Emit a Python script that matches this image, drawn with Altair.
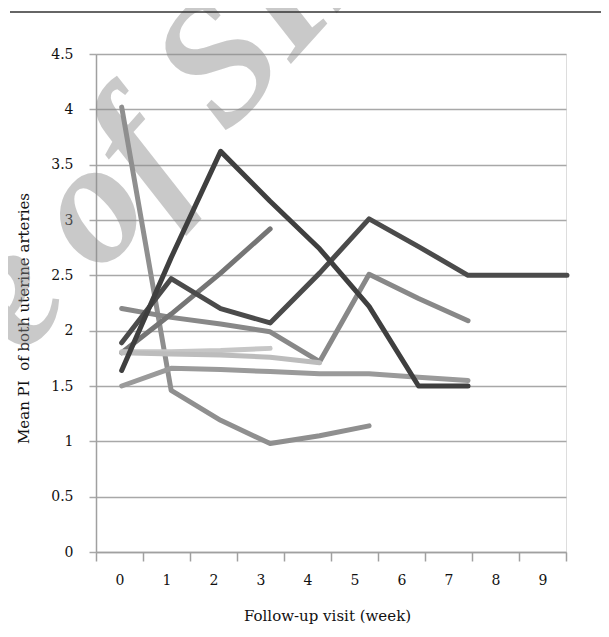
import altair as alt
import pandas as pd

# ---- data ----
week_labels = [str(i) for i in range(10)]

s_peak36 = [1.64, 2.66, 3.62, 3.17, 2.74, 2.22, 1.50, 1.50]
s_peak30 = [1.89, 2.47, 2.20, 2.07, 2.52, 3.01, 2.76, 2.50, 2.50, 2.50]
s_start40 = [4.02, 1.46, 1.19, 0.98, 1.05, 1.14]
s_peak29 = [1.80, 2.15, 2.52, 2.92]
s_start22 = [2.20, 2.12, 2.06, 1.99, 1.72, 2.51, 2.29, 2.09]
s_start15 = [1.50, 1.66, 1.65, 1.63, 1.61, 1.61, 1.58, 1.55]
s_light_a = [1.81, 1.81, 1.82, 1.84]
s_light_b = [1.80, 1.79, 1.78, 1.76, 1.71]

series_names = ["s40", "s22", "s29", "s15", "la", "lb", "s30", "s36"]
series_values = [s_start40, s_start22, s_peak29, s_start15, s_light_a, s_light_b, s_peak30, s_peak36]
series_colors = ["#8f8f8f", "#888888", "#757575", "#9a9a9a", "#c6c6c6", "#bcbcbc", "#4b4b4b", "#3f3f3f"]

y_ticks = [0, 0.5, 1, 1.5, 2, 2.5, 3, 3.5, 4, 4.5]

rows = []
for name, vals in zip(series_names, series_values):
    for w, v in enumerate(vals):
        rows.append({"series": name, "week": w, "value": v})
df = pd.DataFrame(rows)

FONT = "DejaVu Serif"

# watermark (two pieces so that "of" can be anchored)
wm_style = dict(font="Liberation Serif", fontStyle="italic", fontWeight="bold", fontSize=175,
                angle=312, baseline="alphabetic", color="#8a8a8a", opacity=0.45)
wm1 = alt.Chart(pd.DataFrame({"t": ["of SID"]})).mark_text(align="left", **wm_style).encode(
    x=alt.value(4), y=alt.value(222), text="t:N")
wm2 = alt.Chart(pd.DataFrame({"t": ["Archive"]})).mark_text(align="right", **wm_style).encode(
    x=alt.value(-22), y=alt.value(246), text="t:N")

# category axis (labels centred in bands, ticks at band edges)
band = alt.Chart(pd.DataFrame({"week": week_labels})).mark_point(opacity=0).encode(
    x=alt.X("week:O", sort=week_labels,
            scale=alt.Scale(type="band", paddingInner=0, paddingOuter=0),
            axis=alt.Axis(title="Follow-up visit (week)", labelAngle=0, tickBand="extent",
                          domainColor="#a0a0a0", domainWidth=1.5, tickColor="#a0a0a0",
                          tickWidth=1.5, tickSize=9, labelFont=FONT, labelFontSize=14,
                          labelColor="#111", labelPadding=12, titleFont=FONT,
                          titleFontSize=15, titleFontWeight="normal", titleColor="#111",
                          titleY=63, titleX=231, titleBaseline="middle", grid=False)),
    y=alt.value(0),
)

lines = alt.Chart(df).mark_line(strokeWidth=5, strokeCap="round", strokeJoin="round").encode(
    x=alt.X("week:Q", scale=alt.Scale(domain=[-0.519, 8.98], nice=False, zero=False), axis=None),
    y=alt.Y("value:Q", scale=alt.Scale(domain=[0, 4.5], nice=False),
            axis=alt.Axis(values=y_ticks, format="~g", title="Mean PI\u00a0 of both uterine arteries",
                          grid=True, gridColor="#a8a8a8", gridWidth=1.5,
                          domainColor="#a0a0a0", domainWidth=1.5, tickColor="#a8a8a8",
                          tickWidth=1.5, tickSize=7, labelFont=FONT, labelFontSize=14,
                          labelColor="#111", labelPadding=16, titleFont=FONT,
                          titleFontSize=15, titleFontWeight="normal", titleColor="#111",
                          titleX=-73, titleY=264, titleAngle=270, titleAlign="center",
                          titleBaseline="middle")),
    color=alt.Color("series:N", scale=alt.Scale(domain=series_names, range=series_colors), legend=None),
    detail="series:N",
)

top_rule = alt.Chart(pd.DataFrame({"a": [0]})).mark_rule(color="#333333", strokeWidth=1.5).encode(
    x=alt.value(-86), x2=alt.value(513), y=alt.value(-42)
)

chart = alt.layer(wm1, wm2, band, lines, top_rule).resolve_scale(x="independent").properties(
    width=470, height=498,
    autosize=alt.AutoSizeParams(type="none"),
    padding={"left": 88, "top": 46, "right": 35, "bottom": 75},
).configure_view(stroke=None).configure(background="white")

chart.save("out.html", embed_options={"renderer": "svg", "actions": False})
